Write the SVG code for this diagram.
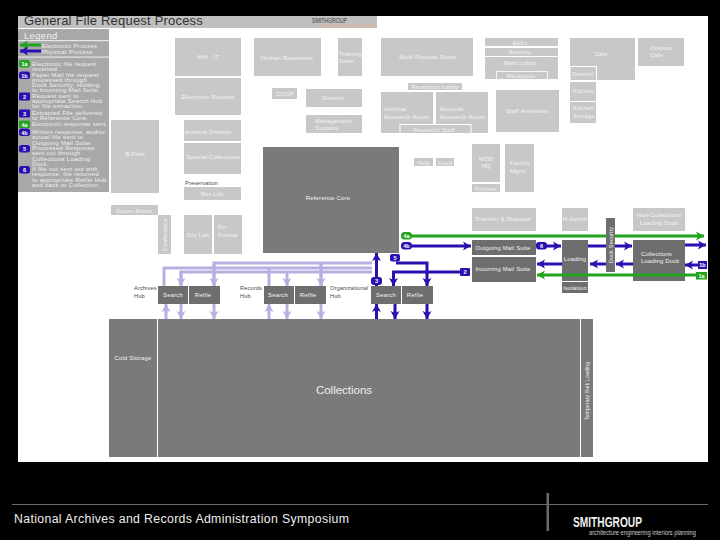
<svg xmlns="http://www.w3.org/2000/svg" width="720" height="540" viewBox="0 0 720 540">
<style>
text{font-family:"Liberation Sans",Arial,sans-serif}
.l{fill:#c8c8c8}.d{fill:#7a7a7a}.m{fill:#6e6e6e}
.t{font-size:5.9px;fill:#f4f4f4;text-anchor:middle;letter-spacing:.2px}
.s{text-anchor:start}
.k{font-size:5.7px;fill:#4a4a4a;letter-spacing:.1px}
.lg{font-size:6px;fill:#f0f0f0;letter-spacing:.32px}
.b{font-size:5.6px;fill:#fff;text-anchor:middle;font-weight:bold}
.g{fill:#22a41e}.u{fill:#2b0fb0}
.cg,.cu,.cv{fill:none;stroke-width:3}
.cg{stroke:#22a41e}.cu{stroke:#2b0fb0}.cv{stroke:#b6b0e2}
</style>
<defs>
<marker id="ag" markerUnits="userSpaceOnUse" markerWidth="10" markerHeight="10" refX="9" refY="5" orient="auto"><path d="M1 .5L9 5L1 9.500L3 5Z" fill="#22a41e"/></marker>
<marker id="au" markerUnits="userSpaceOnUse" markerWidth="10" markerHeight="10" refX="9" refY="5" orient="auto"><path d="M1 .5L9 5L1 9.500L3 5Z" fill="#2b0fb0"/></marker>
<marker id="av" markerUnits="userSpaceOnUse" markerWidth="10" markerHeight="10" refX="9" refY="5" orient="auto"><path d="M1 .5L9 5L1 9.500L3 5Z" fill="#b6b0e2"/></marker>
</defs>
<rect width="720" height="540" fill="#000"/>
<rect x="18" y="16" width="690" height="446" fill="#fff"/>
<g id="title">
<rect x="18" y="16" width="359" height="12" fill="#bfbfbf"/>
<rect x="320" y="24" width="57" height="4" fill="#c9b9ae"/>
<text x="24" y="25" font-size="13" fill="#333" letter-spacing=".2">General File Request Process</text>
<text x="312" y="23" font-size="7" fill="#3a3a3a" textLength="35" lengthAdjust="spacingAndGlyphs">SMITHGROUP</text>
</g>
<g id="legend">
<rect x="18" y="29" width="91" height="163" fill="#a8a8a8"/>
<rect x="18" y="40" width="91" height="1.2" fill="#e6e6e6"/>
<rect x="18" y="56.500" width="91" height="1.2" fill="#e6e6e6"/>
<text x="24" y="39" font-size="9.400" fill="#f2f2f2" letter-spacing=".4">Legend</text>
<path d="M41 45H20" class="cg" marker-end="url(#ag)"/>
<path d="M41 51H20" class="cu" marker-end="url(#au)"/>
<text x="42" y="47.500" class="lg">Electronic Process</text>
<text x="42" y="53.500" class="lg">Physical Process</text>
<rect x="19" y="60" width="11" height="7.500" rx="2.500" class="g"/><text x="24.500" y="66" class="b">1a</text>
<text class="lg"><tspan x="32" y="65.500">Electronic file request</tspan><tspan x="32" y="70.500">received.</tspan></text>
<rect x="19" y="71.500" width="11" height="7.500" rx="2.500" class="u"/><text x="24.500" y="77.500" class="b">1b</text>
<text class="lg"><tspan x="32" y="76.500">Paper Mail file request</tspan><tspan x="32" y="81.700">processed through</tspan><tspan x="32" y="87">Dock Security, Holding,</tspan><tspan x="32" y="92.200">to Incoming Mail Suite.</tspan></text>
<rect x="19" y="92.500" width="11" height="8" rx="1" class="u"/><text x="24.500" y="99" class="b">2</text>
<text class="lg"><tspan x="32" y="97.500">Request sent to</tspan><tspan x="32" y="102.700">appropriate Search Hub</tspan><tspan x="32" y="108">for file extraction.</tspan></text>
<rect x="19" y="109.500" width="11" height="8" rx="1" class="u"/><text x="24.500" y="116" class="b">3</text>
<text class="lg"><tspan x="32" y="114.500">Extracted File delivered</tspan><tspan x="32" y="119.700">to Reference Core.</tspan></text>
<rect x="19" y="120.500" width="11" height="7.500" rx="1" class="g"/><text x="24.500" y="126.500" class="b">4a</text>
<text x="32" y="125.800" class="lg">Electronic response sent.</text>
<rect x="19" y="128.500" width="11" height="7.500" rx="2.500" class="u"/><text x="24.500" y="134.500" class="b">4b</text>
<text class="lg"><tspan x="32" y="134">Written response, and/or</tspan><tspan x="32" y="139.200">actual file sent to</tspan><tspan x="32" y="144.500">Outgoing Mail Suite.</tspan></text>
<rect x="19" y="145" width="11" height="7.500" rx="2.500" class="u"/><text x="24.500" y="151" class="b">5</text>
<text class="lg"><tspan x="32" y="150">Processed Response</tspan><tspan x="32" y="155.200">sent out through</tspan><tspan x="32" y="160.500">Collections Loading</tspan><tspan x="32" y="165.700">Dock.</tspan></text>
<rect x="19" y="166" width="11" height="7.500" rx="2.500" class="u"/><text x="24.500" y="172" class="b">6</text>
<text class="lg"><tspan x="32" y="171">If file not sent out with</tspan><tspan x="32" y="176.200">response, file returned</tspan><tspan x="32" y="181.500">to appropriate Refile Hub</tspan><tspan x="32" y="186.700">and back to Collection.</tspan></text>
</g>
<g id="nih-it"><rect x="175" y="38" width="66" height="38" class="l"/><text x="208" y="59" class="t">NIH - IT</text></g>
<g id="electronic-records"><rect x="175" y="78" width="66" height="37" class="l"/><text x="208" y="99" class="t">Electronic Records</text></g>
<g id="b-files"><rect x="111" y="120" width="48" height="73" class="l"/><text x="135" y="156" class="t">B-Files</text></g>
<g id="archival-division"><rect x="184" y="120" width="57" height="21" class="l"/><text x="208" y="134" class="t">Archival Division</text></g>
<g id="special-collections"><rect x="184" y="143" width="57" height="31" class="l"/><text x="213" y="159" class="t">Special Collections</text></g>
<text x="185" y="185" class="k">Preservation</text>
<g id="wet-lab"><rect x="184" y="187" width="57" height="13" class="l"/><text x="212" y="196" class="t">Wet Lab</text></g>
<g id="duties-room"><rect x="111" y="205" width="47" height="10" class="l"/><text x="134" y="212.500" class="t">Duties Room</text></g>
<g id="conference"><rect x="158" y="215" width="13" height="39" class="l"/><text transform="translate(166.500 235) rotate(-90)" class="t">Conference</text></g>
<g id="dry-lab"><rect x="184" y="215" width="28" height="39" class="l"/><text x="198" y="236.500" class="t">Dry Lab</text></g>
<g id="re-format"><rect x="214" y="215" width="28" height="39" class="l"/><text x="218" y="229" class="t s">Re-</text><text x="218" y="236.500" class="t s">Format</text></g>
<g id="human-resources"><rect x="254" y="38" width="67" height="38" class="l"/><text x="287" y="60" class="t">Human Resources</text></g>
<g id="training-suite"><rect x="338" y="38" width="24" height="38" class="l"/><text x="339" y="56" class="t s">Training</text><text x="339" y="63" class="t s">Suite</text></g>
<g id="multi-purpose-room"><rect x="381" y="38" width="92" height="38" class="l"/><text x="428" y="59" class="t">Multi-Purpose Room</text></g>
<g id="coop"><rect x="272" y="88" width="25" height="11" class="l"/><text x="285" y="96" class="t">COOP</text></g>
<g id="director"><rect x="306" y="89" width="56" height="18" class="l"/><text x="333" y="100" class="t">Director</text></g>
<g id="management-systems"><rect x="306" y="115" width="56" height="18" class="l"/><text x="315" y="122.500" class="t s">Management</text><text x="315" y="130" class="t s">Systems</text></g>
<g id="reception-lobby"><rect x="408" y="83" width="54" height="7" class="l"/><text x="435" y="88.800" class="t">Reception Lobby</text></g>
<g id="archival-research-room"><rect x="381" y="92" width="52" height="41" class="l"/><text x="384" y="111" class="t s">Archival</text><text x="384" y="118.500" class="t s">Research Room</text></g>
<g id="records-research-room"><rect x="436" y="92" width="52" height="41" class="l"/><text x="440" y="111" class="t s">Records</text><text x="440" y="118.500" class="t s">Research Room</text></g>
<g id="research-staff"><rect x="400" y="124.500" width="71" height="9" class="l" stroke="#fff"/><text x="434" y="131.500" class="t">Research Staff</text></g>
<g id="reference-core"><rect x="263" y="147" width="136" height="106" class="d"/><text x="328" y="200" class="t">Reference Core</text></g>
<g id="help"><rect x="414" y="158" width="19" height="8" class="l"/><text x="423.500" y="164.500" class="t">Help</text></g>
<g id="food"><rect x="436" y="158" width="18" height="8" class="l"/><text x="445" y="164.500" class="t">Food</text></g>
<g id="mod-hq"><rect x="472" y="144" width="28" height="38" class="l"/><text x="486" y="161" class="t">MOD</text><text x="486" y="168" class="t">HQ</text></g>
<g id="printers"><rect x="472" y="184" width="28" height="8" class="l"/><text x="486" y="190.500" class="t">Printers</text></g>
<g id="facility-mgmt"><rect x="505" y="144" width="29" height="48" class="l"/><text x="510" y="165" class="t s">Facility</text><text x="510" y="173" class="t s">Mgmt</text></g>
<g id="entry"><rect x="485" y="38" width="73" height="8" class="l"/><text x="520" y="44.500" class="t">Entry</text></g>
<g id="security"><rect x="485" y="48" width="73" height="8" class="l"/><text x="520" y="54" class="t">Security</text></g>
<g id="main-lobby"><rect x="485" y="57" width="73" height="22" class="l"/><text x="520" y="65" class="t">Main Lobby</text></g>
<g id="reception"><rect x="496.500" y="71.500" width="51" height="8" class="l" stroke="#fff" stroke-width=".8"/><text x="521" y="77.500" class="t">Reception</text></g>
<g id="cafe"><rect x="570" y="38" width="65" height="42" class="l"/><text x="601" y="56" class="t">Cafe</text></g>
<g id="servery"><rect x="570" y="66.500" width="26.500" height="14" class="l" stroke="#fff"/><text x="572" y="76" class="t s">Servery</text></g>
<g id="kitchen"><rect x="570" y="82" width="26" height="19" class="l"/><text x="573" y="93" class="t s">Kitchen</text></g>
<g id="kitchen-storage"><rect x="570" y="102" width="26" height="21" class="l"/><text x="573" y="110" class="t s">Kitchen</text><text x="573" y="118" class="t s">Storage</text></g>
<g id="outdoor-cafe"><rect x="638" y="38" width="46" height="28" class="l"/><text x="650" y="50" class="t s">Outdoor</text><text x="650" y="57" class="t s">Cafe</text></g>
<g id="staff-amenities"><rect x="496" y="90" width="63" height="42" class="l"/><text x="527" y="113" class="t">Staff Amenities</text></g>
<g id="transfer-disposal"><rect x="472" y="208" width="64" height="23" class="l"/><text x="503" y="221" class="t">Transfer &amp; Disposal</text></g>
<g id="hi-admin"><rect x="562" y="208" width="26" height="23" class="l"/><text x="575" y="221" class="t">H-Admin</text></g>
<g id="non-collections-dock"><rect x="633" y="208" width="52" height="23" class="l"/><text x="659" y="217" class="t">Non-Collections</text><text x="659" y="225" class="t">Loading Dock</text></g>
<g id="outgoing-mail-suite"><rect x="472" y="240" width="64" height="15" class="m"/><text x="503" y="250" class="t">Outgoing Mail Suite</text></g>
<g id="incoming-mail-suite"><rect x="472" y="257" width="64" height="25" class="m"/><text x="503" y="271" class="t">Incoming Mail Suite</text></g>
<g id="loading"><rect x="562" y="240" width="26" height="41" class="m"/><text x="575" y="261" class="t">Loading</text></g>
<g id="isolation"><rect x="562" y="282" width="26" height="11" class="m"/><text x="575" y="289.500" class="t">Isolation</text></g>
<g id="collections-dock"><rect x="633" y="240" width="52" height="41" class="m"/><text x="641" y="256" class="t s">Collections</text><text x="641" y="263" class="t s">Loading Dock</text></g>
<text class="k"><tspan x="134" y="290">Archives</tspan><tspan x="134" y="298">Hub</tspan></text>
<text class="k"><tspan x="240" y="290">Records</tspan><tspan x="240" y="298">Hub</tspan></text>
<text class="k"><tspan x="330" y="290">Organizational</tspan><tspan x="330" y="298">Hub</tspan></text>
<g id="archives-search"><rect x="158" y="286" width="30" height="18" class="m"/><text x="173" y="297" class="t">Search</text></g>
<g id="archives-refile"><rect x="189" y="286" width="31" height="18" class="m"/><text x="203" y="297" class="t">Refile</text></g>
<g id="records-search"><rect x="264" y="286" width="30" height="18" class="m"/><text x="278" y="297" class="t">Search</text></g>
<g id="records-refile"><rect x="295" y="286" width="31" height="18" class="m"/><text x="308" y="297" class="t">Refile</text></g>
<g id="org-search"><rect x="371" y="286" width="30" height="18" class="m"/><text x="386" y="297" class="t">Search</text></g>
<g id="org-refile"><rect x="402" y="286" width="31" height="18" class="m"/><text x="415" y="297" class="t">Refile</text></g>
<g id="cold-storage"><rect x="109" y="319" width="48" height="138" class="d"/><text x="133" y="360" class="t">Cold Storage</text></g>
<g id="collections"><rect x="158" y="319" width="422" height="138" class="d"/><text x="344" y="394" font-size="11.500" fill="#efefef" text-anchor="middle">Collections</text></g>
<g id="temporary-bulk-loading"><rect x="581" y="319" width="12" height="138" class="d"/><text transform="translate(589 391) rotate(-90)" class="t" style="font-size:5px">Temporary Bulk Loading</text></g>
<g id="connectors">
<path class="cv" d="M164 286V268H372M214 286V263H372M269 286V268M321 286V263"/>
<path class="cv" d="M181 285V272H372"/>
<path class="cv" d="M181 272V286" marker-end="url(#av)"/>
<path class="cv" d="M214 264V286" marker-end="url(#av)"/>
<path class="cv" d="M287 272V286" marker-end="url(#av)"/>
<path class="cv" d="M321 264V286" marker-end="url(#av)"/>
<path class="cv" d="M166 319V304" marker-end="url(#av)"/>
<path class="cv" d="M181 304V319" marker-end="url(#av)"/>
<path class="cv" d="M214 304V319" marker-end="url(#av)"/>
<path class="cv" d="M269 319V304" marker-end="url(#av)"/>
<path class="cv" d="M287 304V319" marker-end="url(#av)"/>
<path class="cv" d="M321 304V319" marker-end="url(#av)"/>
<path class="cu" d="M376.500 286V253" marker-end="url(#au)"/>
<path class="cu" d="M376.500 319V304" marker-end="url(#au)"/>
<path class="cu" d="M395 304V319" marker-end="url(#au)"/>
<path class="cu" d="M427 304V319" marker-end="url(#au)"/>
<path class="cu" d="M396 263H427V286" marker-end="url(#au)"/>
<path class="cu" d="M462 272H393.500V286" marker-end="url(#au)"/>
<path class="cu" d="M410 246H471" marker-end="url(#au)"/>
<path class="cu" d="M546 246H561" marker-end="url(#au)"/>
<path class="cu" d="M588 246H632" marker-end="url(#au)"/>
<path class="cu" d="M685 245H706" marker-end="url(#au)"/>
<path class="cu" d="M700 265H685" marker-end="url(#au)"/>
<path class="cu" d="M633 264H616" marker-end="url(#au)"/>
<path class="cu" d="M606 264H590" marker-end="url(#au)"/>
<path class="cu" d="M562 264H537" marker-end="url(#au)"/>
<path class="cg" d="M410 236H704" marker-end="url(#ag)"/>
<path class="cg" d="M698 275H537" marker-end="url(#ag)"/>
<rect x="371" y="277" width="11" height="8" rx="3" class="u"/><text x="376.500" y="283" class="b">3</text>
<rect x="390" y="254" width="10" height="7.500" rx="2" class="u"/><text x="395" y="260" class="b">5</text>
<rect x="460" y="268" width="10" height="8" rx="1" class="u"/><text x="465" y="274" class="b">2</text>
<rect x="401" y="232" width="11" height="7.500" rx="3.500" class="g"/><text x="406.500" y="238" class="b">4a</text>
<rect x="401" y="242" width="11" height="7.500" rx="3.500" class="u"/><text x="406.500" y="248" class="b">4b</text>
<rect x="536" y="242" width="11" height="7.500" rx="3" class="u"/><text x="541.500" y="248" class="b">6</text>
<rect x="698" y="261" width="9" height="8" class="u"/><text x="702.500" y="267" class="b">1b</text>
<rect x="696" y="272" width="11" height="7.500" class="g"/><text x="701.500" y="278" class="b">1a</text>
</g>
<g id="dock-security"><rect x="606" y="218" width="9" height="54" fill="#6e6e6e"/><text transform="translate(612.500 245) rotate(-90)" class="t" style="font-size:5.500px">Dock Security</text></g>
<g id="footer">
<rect x="12" y="504" width="696" height="1" fill="#6a6a6a"/>
<rect x="546.500" y="493" width="2.500" height="38" fill="#6a6a6a"/>
<text x="14" y="523" font-size="12.300" fill="#eee" letter-spacing=".35">National Archives and Records Administration Symposium</text>
<text x="573" y="527" font-size="15" font-weight="bold" fill="#eee" textLength="69" lengthAdjust="spacingAndGlyphs">SMITHGROUP</text>
<text x="589" y="535" font-size="6.500" fill="#ccc" textLength="107" lengthAdjust="spacingAndGlyphs">architecture engineering interiors planning</text>
</g>
</svg>
